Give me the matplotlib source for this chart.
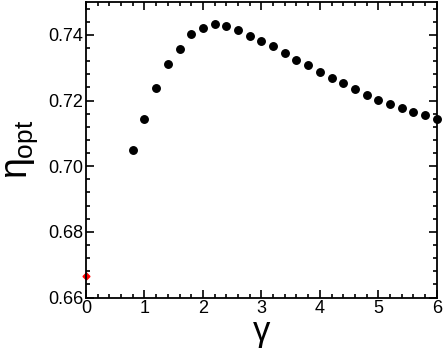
import numpy as np
import matplotlib
matplotlib.use('Agg')
import matplotlib.pyplot as plt
from matplotlib.ticker import MultipleLocator

plt.rcParams['font.family'] = ['Liberation Sans', 'DejaVu Sans']
plt.rcParams['mathtext.fontset'] = 'custom'
plt.rcParams['mathtext.rm'] = 'Liberation Sans'
plt.rcParams['mathtext.it'] = 'Liberation Sans'

# data
gamma = np.array([0.8, 1.0, 1.2, 1.4, 1.6, 1.8, 2.0, 2.2, 2.4, 2.6, 2.8, 3.0, 3.2, 3.4,
                  3.6, 3.8, 4.0, 4.2, 4.4, 4.6, 4.8, 5.0, 5.2, 5.4, 5.6, 5.8, 6.0])
eta_opt = np.array([0.7049, 0.7143, 0.7237, 0.7311, 0.7356, 0.7404, 0.7421, 0.7432,
                    0.7428, 0.7414, 0.7398, 0.7382, 0.7366, 0.7345, 0.7325, 0.7307,
                    0.7287, 0.7269, 0.7252, 0.7234, 0.7218, 0.7203, 0.7189, 0.7177,
                    0.7165, 0.7155, 0.7145])
gamma0 = [0.0]
eta0 = [0.6666]

fig = plt.figure(figsize=(4.43, 3.5), dpi=100, facecolor='white')
ax = fig.add_axes([0.194, 0.15, 0.792, 0.844])

ax.plot(gamma, eta_opt, 'o', color='black', markersize=5.4, clip_on=False)
ax.plot(gamma0, eta0, 'D', color='red', markersize=3.5, clip_on=False)

ax.set_xlim(0, 6)
ax.set_ylim(0.66, 0.75)
ax.xaxis.set_major_locator(MultipleLocator(1))
ax.xaxis.set_minor_locator(MultipleLocator(0.2))
ax.yaxis.set_minor_locator(MultipleLocator(0.004))
ax.set_yticks([0.66, 0.68, 0.70, 0.72, 0.74])
ax.set_yticklabels(['0.66', '0.68', '0.70', '0.72', '0.74'])

ax.tick_params(which='both', direction='in', top=True, right=True, width=1.2, labelsize=13)
ax.tick_params(which='major', length=6, pad=2)
ax.tick_params(which='minor', length=3)
for s in ax.spines.values():
    s.set_linewidth(1.3)

ax.set_xlabel(r'$\gamma$', fontsize=25, labelpad=0)
ax.set_ylabel(r'$\eta_{\rm opt}$', fontsize=27, labelpad=6)

fig.savefig('out.png', dpi=100)
